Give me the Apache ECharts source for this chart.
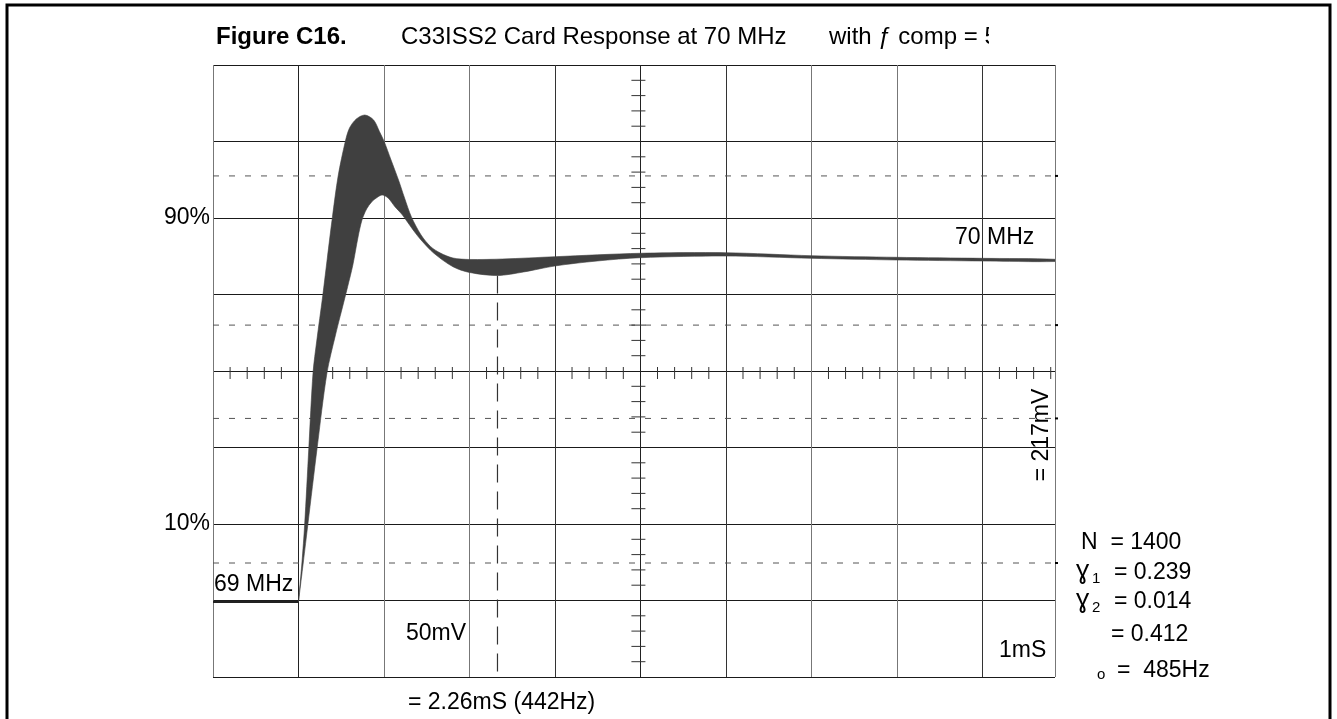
<!DOCTYPE html>
<html><head><meta charset="utf-8">
<script src="https://cdn.jsdelivr.net/npm/echarts@6/dist/echarts.min.js"></script>
<style>html,body{margin:0;padding:0;background:#fff}#c{width:1337px;height:719px}</style>
</head><body><div id="c"></div>
<script>
// Trace envelope (screen divisions: x 0..9.85 visible, y 0..8)
const upperX = [1.000,1.041,1.072,1.121,1.170,1.215,1.282,1.336,1.397,1.464,1.549,1.597,1.676,1.777,1.879,1.947,2.000,2.083,2.170,2.241,2.320,2.434,2.547,2.660,2.807,3.000,3.389,4,5,6,7,8,9,9.85];
const upperY = [0.984,1.503,1.987,2.993,3.974,4.405,4.967,5.464,6.013,6.549,7.007,7.176,7.294,7.346,7.281,7.131,7.007,6.758,6.497,6.261,6.017,5.778,5.625,5.542,5.477,5.458,5.464,5.494,5.539,5.546,5.507,5.486,5.473,5.460];
const lowerX = [1.000,1.057,1.109,1.218,1.333,1.433,1.542,1.575,1.636,1.697,1.743,1.797,1.858,1.919,1.979,2.049,2.128,2.207,2.283,2.354,2.434,2.581,2.807,3.000,3.328,3.632,4,4.494,5,6,7,8,9,9.85];
const lowerY = [0.984,1.503,1.987,2.993,3.974,4.471,4.954,5.102,5.386,5.752,5.974,6.118,6.213,6.268,6.301,6.261,6.148,6.052,5.935,5.824,5.712,5.542,5.363,5.288,5.248,5.294,5.373,5.438,5.481,5.503,5.473,5.451,5.438,5.431];
const baseLineX = [0, 1.0];
const baseLineY = [0.984, 0.984];
const markerX = 3.328;
const markerTopY = 5.248;
const dashedLevels = [6.55, 4.6, 3.38, 1.49];
const percentTicks = [6, 2];
const percentLabels = ['90%', '10%'];
const xVisible = 9.85, yDivisions = 8, xCentre = 5, minorPerDiv = 5;

const minorX = [], minorY = [];
for (let i = 1; i < xVisible * minorPerDiv; i++) if (i % minorPerDiv) minorX.push([i / minorPerDiv]);
for (let i = 1; i < yDivisions * minorPerDiv; i++) if (i % minorPerDiv) minorY.push([i / minorPerDiv]);

const FONT = '"Liberation Sans", Arial, "DejaVu Sans", sans-serif';
const chart = echarts.init(document.getElementById('c'), null, {renderer: 'canvas'});

function txt(x, y, text, size, extra) {
  return Object.assign({type: 'text', x: x, y: y, z: 50,
    style: Object.assign({text: text, fill: '#000', font: (size || 23) + 'px ' + FONT,
      align: 'left', verticalAlign: 'middle'}, (extra && extra.style) || {})},
    extra ? {rotation: extra.rotation || 0} : {});
}

chart.setOption({
  animation: false,
  backgroundColor: '#fff',
  grid: {left: 213, top: 65, width: 842, height: 612, containLabel: false},
  xAxis: {type: 'value', min: 0, max: xVisible, interval: 1,
    axisLine: {show: false}, axisTick: {show: false}, axisLabel: {show: false},
    splitLine: {show: true, lineStyle: {color: ['#777','#222','#777','#777','#333','#222','#333','#777','#777','#333','#777'], width: 1}}},
  yAxis: {type: 'value', min: 0, max: yDivisions, interval: 1,
    axisLine: {show: false}, axisTick: {show: false},
    axisLabel: {show: true, margin: 3, color: '#000', fontSize: 23, fontFamily: FONT,
      formatter: function (v) { const k = percentTicks.indexOf(v); return k >= 0 ? percentLabels[k] : ''; }},
    splitLine: {show: true, lineStyle: {color: '#1a1a1a', width: 1}}},
  series: [
    { // dashed reference levels
      type: 'custom', data: dashedLevels.map(v => [0, v]), z: 3, silent: true,
      renderItem: function (params, api) {
        const v = api.value(1);
        const a = api.coord([0, v]), b = api.coord([xVisible, v]);
        return {type: 'group', children: [
          {type: 'line', shape: {x1: a[0], y1: a[1], x2: b[0], y2: b[1]}, style: {stroke: '#555', lineWidth: 1, lineDash: [6, 10]}},
          {type: 'rect', shape: {x: b[0], y: b[1] - 1, width: 3, height: 2}, style: {fill: '#000'}}
        ]};
      }
    },
    { // minor ticks on horizontal centre line
      type: 'custom', data: minorX, z: 4, silent: true,
      renderItem: function (params, api) {
        const p = api.coord([api.value(0), yDivisions / 2]);
        return {type: 'line', shape: {x1: p[0], y1: p[1] - 4, x2: p[0], y2: p[1] + 8}, style: {stroke: '#333', lineWidth: 1}};
      }
    },
    { // minor ticks on vertical centre line
      type: 'custom', data: minorY, z: 4, silent: true,
      renderItem: function (params, api) {
        const p = api.coord([xCentre, api.value(0)]);
        return {type: 'line', shape: {x1: p[0] - 9, y1: p[1], x2: p[0] + 5, y2: p[1]}, style: {stroke: '#333', lineWidth: 1}};
      }
    },
    { // marker
      type: 'line', data: [[markerX, markerTopY], [markerX, 0]], symbol: 'none', z: 5, silent: true,
      lineStyle: {color: '#333', width: 1.2, type: [18, 9]}
    },
    { // initial level line
      type: 'line', data: baseLineX.map((x, i) => [x, baseLineY[i]]), symbol: 'none', z: 6, silent: true,
      lineStyle: {color: '#222', width: 2.5}
    },
    { // trace band
      type: 'custom', data: [[0, 0]], z: 7, silent: true, clip: true,
      renderItem: function (params, api) {
        const pts = [];
        for (let i = 0; i < upperX.length; i++) pts.push(api.coord([upperX[i], upperY[i]]));
        for (let i = lowerX.length - 1; i >= 0; i--) pts.push(api.coord([lowerX[i], lowerY[i]]));
        return {type: 'polygon', shape: {points: pts, smooth: 0.3}, style: {fill: '#404040', stroke: '#404040', lineWidth: 0.6}};
      }
    }
  ],
  graphic: [
    {type: 'rect', shape: {x: 7, y: 5, width: 1323, height: 760}, style: {fill: null, stroke: '#000', lineWidth: 3}, z: 60},
    txt(216, 37, 'Figure C16.', 24, {style: {font: 'bold 24px ' + FONT}}),
    txt(401, 37, 'C33ISS2 Card Response at 70 MHz', 24),
    txt(829, 37, 'with ƒ comp = 5', 24),
    {type: 'rect', shape: {x: 989, y: 18, width: 40, height: 40}, style: {fill: '#fff'}, z: 55},
    txt(214, 585, '69 MHz'),
    txt(955, 238, '70 MHz'),
    txt(406, 634, '50mV'),
    txt(999, 651, '1mS'),
    txt(408, 703, '= 2.26mS (442Hz)'),
    txt(1042, 435, '= 217mV', 23, {rotation: Math.PI / 2, style: {align: 'center'}}),
    txt(1081, 543, 'N  = 1400'),
    txt(1076, 571, 'ɣ', 23, {style: {font: '26px "Noto Sans", "DejaVu Sans", sans-serif'}}),
    txt(1092, 579, '1', 15),
    txt(1114, 573, '= 0.239'),
    txt(1076, 600, 'ɣ', 23, {style: {font: '26px "Noto Sans", "DejaVu Sans", sans-serif'}}),
    txt(1092, 608, '2', 15),
    txt(1114, 602, '= 0.014'),
    txt(1111, 635, '= 0.412'),
    txt(1097, 675, 'o', 15),
    txt(1117, 671, '=  485Hz')
  ]
});
</script></body></html>
